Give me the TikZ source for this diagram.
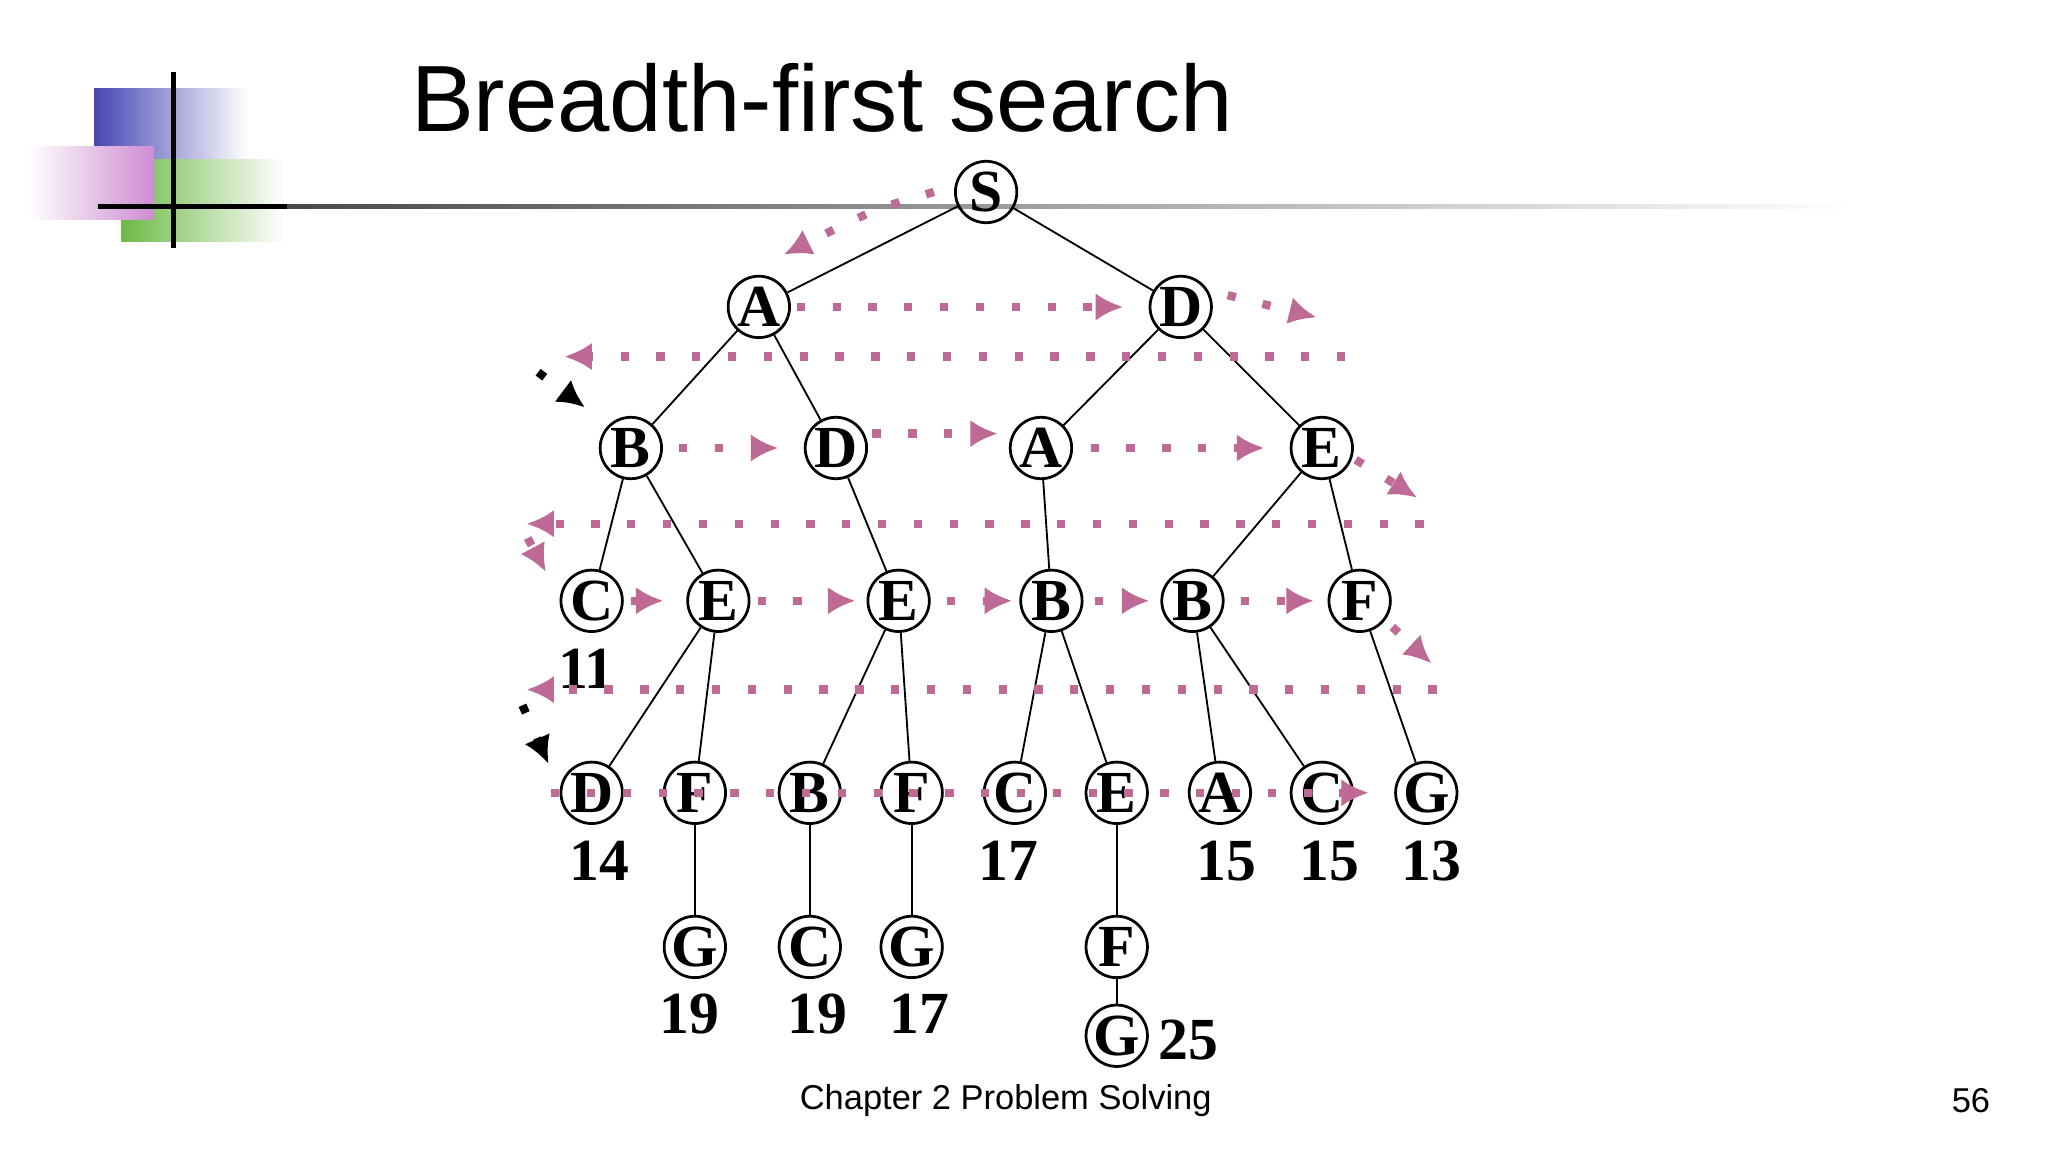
\documentclass[tikz,border=0pt]{standalone}
\usepackage{fontspec}
\setmainfont{Liberation Serif}
\newfontfamily\titlefont{Liberation Sans}
\usetikzlibrary{arrows.meta}
\definecolor{pk}{RGB}{190,105,150}
\definecolor{bl}{RGB}{70,70,180}
\definecolor{gr}{RGB}{110,185,70}
\definecolor{mg}{RGB}{205,140,210}
\begin{document}
\begin{tikzpicture}[x=0.01cm,y=-0.01cm,
  tn/.style={circle,draw,semithick,minimum size=0.47cm,inner sep=0pt,font=\fontsize{13}{13}\selectfont\bfseries},
  lab/.style={font=\fontsize{13}{13}\selectfont\bfseries},
  ed/.style={thin},
  pd/.style={pk,line width=1.8pt,dash pattern=on 1.8pt off 6pt,-{Latex[length=6pt,width=6pt]}},
  kd/.style={black,line width=1.8pt,dash pattern=on 1.8pt off 6pt,-{Latex[length=6pt,width=6pt]}}]
\useasboundingbox[fill=white] (0,0) rectangle (1568,882);
% decoration
\shade[left color=bl,right color=white] (72,68) rectangle (190,140);
\shade[left color=gr,right color=white] (93,122) rectangle (218,185);
\shade[left color=white,right color=mg] (22,112) rectangle (118,168);
\shade[left color=black!80,right color=white] (75,156.5) rectangle (1420,159.5);
\draw[line width=1.2pt] (133,55) -- (133,190);
\draw[line width=1.2pt] (75,158) -- (220,158);
\node[font=\titlefont\fontsize{20.5}{21}\selectfont,anchor=west,inner sep=0pt] (title) at (314,75) {Breadth-first search};
\node[font=\titlefont\fontsize{7.5}{8}\selectfont] (foot) at (770,843) {Chapter 2 Problem Solving};
\node[font=\titlefont\fontsize{7.5}{8}\selectfont] (pg) at (1509,843) {56};
% nodes
\node[tn] (S) at (755,147) {S};
\node[tn] (A) at (581,235) {A};
\node[tn] (D) at (904,235) {D};
\node[tn] (B) at (483,343) {B};
\node[tn] (D2) at (640,343) {D};
\node[tn] (A2) at (797,343) {A};
\node[tn] (E) at (1012,343) {E};
\node[tn] (C) at (453,460) {C};
\node[tn] (E2) at (550,460) {E};
\node[tn] (E3) at (688,460) {E};
\node[tn] (B2) at (805,460) {B};
\node[tn] (B3) at (913,460) {B};
\node[tn] (F) at (1041,460) {F};
\node[tn] (D3) at (453,607) {D};
\node[tn] (F2) at (532,607) {F};
\node[tn] (B4) at (620,607) {B};
\node[tn] (F3) at (698,607) {F};
\node[tn] (C2) at (777,607) {C};
\node[tn] (E4) at (855,607) {E};
\node[tn] (A3) at (934,607) {A};
\node[tn] (C3) at (1012,607) {C};
\node[tn] (G) at (1092,607) {G};
\node[tn] (G2) at (532,725) {G};
\node[tn] (C4) at (620,725) {C};
\node[tn] (G3) at (698,725) {G};
\node[tn] (F4) at (855,725) {F};
\node[tn] (G4) at (855,793) {G};
\node[lab] (l1) at (449,512) {11};
\node[lab] (l2) at (459,659) {14};
\node[lab] (l3) at (772,659) {17};
\node[lab] (l4) at (939,659) {15};
\node[lab] (l5) at (1018,659) {15};
\node[lab] (l6) at (1096,659) {13};
\node[lab] (l7) at (528,776) {19};
\node[lab] (l8) at (626,776) {19};
\node[lab] (l9) at (704,776) {17};
\node[lab] (l10) at (910,796) {25};
% edges
\foreach \a/\b in {S/A,S/D,A/B,A/D2,D/A2,D/E,B/C,B/E2,D2/E3,A2/B2,E/B3,E/F,E2/D3,E2/F2,E3/B4,E3/F3,B2/C2,B2/E4,B3/A3,B3/C3,F/G,F2/G2,B4/C4,F3/G3,E4/F4,F4/G4}
  \draw[ed] (\a) -- (\b);
% dotted search order
\draw[pd] (715,147) .. controls (670,160) .. (600,195);
\draw[pd] (610,235) -- (860,235);
\draw[pd] (940,226) -- (1008,243);
\draw[pd] (1030,273) -- (432,273);
\draw[kd] (412,285) -- (448,312);
\draw[pd] (520,343) -- (596,343);
\draw[pd] (668,332) -- (764,332);
\draw[pd] (835,343) -- (968,343);
\draw[pd] (1038,352) -- (1085,381);
\draw[pd] (1090,401) -- (403,401);
\draw[pd] (404,412) -- (418,438);
\draw[pd] (483,460) -- (508,460);
\draw[pd] (580,460) -- (655,460);
\draw[pd] (725,460) -- (775,460);
\draw[pd] (838,460) -- (880,460);
\draw[pd] (950,460) -- (1006,460);
\draw[pd] (1066,480) -- (1096,508);
\draw[pd] (1100,528) -- (403,528);
\draw[kd] (400,540) -- (420,585);
\draw[pd] (422,607) -- (1048,607);
\end{tikzpicture}
\end{document}
